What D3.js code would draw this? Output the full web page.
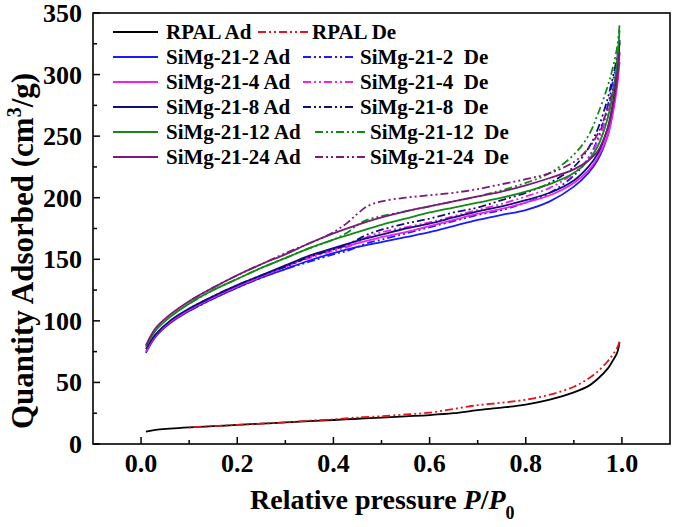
<!DOCTYPE html>
<html><head><meta charset="utf-8">
<script src="https://cdn.jsdelivr.net/npm/d3@7"></script>
<style>
html,body{margin:0;padding:0;background:#fff;}
text{font-family:"Liberation Serif","Times New Roman",serif;font-weight:bold;fill:#000;}
</style></head>
<body><svg id="chart" width="675" height="527"></svg>
<script>
// ---------- data ----------
const pAd = [0.01,0.03,0.06,0.1,0.15,0.2,0.25,0.3,0.35,0.4,0.45,0.5,0.55,0.6,0.65,0.7,0.75,0.8,0.85,0.9,0.93,0.95,0.97,0.98,0.99,0.995];
const pDe = [0.995,0.99,0.98,0.97,0.95,0.93,0.9,0.85,0.8,0.75,0.7,0.65,0.6,0.55,0.5,0.47,0.45,0.43,0.4,0.35,0.3,0.25,0.2,0.15,0.1];

const rpalAd   = [10,11.5,12.5,13.5,14.5,15.5,16.5,17.5,18.5,19.5,20.5,21.5,22.5,23.5,25,27.5,29.5,32,36,42,47,53,61,67,74,83];
const rpalDe   = [83,78,72,67,59,53,46.5,40,36,33.5,31.5,28.5,25.5,24,22.5,22,21.5,21,20,19,17.5,16.5,15.5,14.5,13.5];
const simg2Ad  = [74,87,98,108,118,127,135,142,149,155,160,164,168,172,177,182,186,190,197,209,220,231,250,268,298,328];
const simg2De  = [328,312,292,274,248,232,218,204,196,190,186,181,176,171,166,163,160,157,154,148,142,135,127,118,108];
const simg4Ad  = [75,88,99,109,119,128,136,144,152,158,163,168,172,177,182,187,191,196,202,212,222,233,250,266,290,310];
const simg4De  = [310,300,284,268,246,232,220,208,201,195,190,185,180,176,172,168,164,160,157,151,144,136,128,119,109];
const simg8Ad  = [77,89,100,110,120,129,137,145,153,159,165,170,175,179,184,189,193,198,204,214,225,236,256,274,304,326];
const simg8De  = [326,314,296,280,256,240,225,212,204,198,192,188,183,179,174,170,166,162,158,152,144,137,129,120,110];
const simg12Ad = [79,92,103,114,125,134,143,151,159,166,172,178,183,188,192,196,200,205,211,220,230,242,264,282,310,336];
const simg12De = [340,322,304,290,268,250,235,220,212,206,201,197,193,189,185,182,178,172,166,159,151,143,134,125,114];
const simg24Ad = [80,94,105,116,127,137,146,154,163,171,178,184,189,193,197,201,205,210,216,223,230,238,256,272,296,318];
const simg24De = [318,302,286,272,252,240,229,220,215,211,207,204,202,200,197,193,187,180,172,163,155,146,137,127,116];

const seriesNames = ["RPAL Ad","RPAL De","SiMg-21-2 Ad","SiMg-21-2  De","SiMg-21-4 Ad","SiMg-21-4  De","SiMg-21-8 Ad","SiMg-21-8  De","SiMg-21-12 Ad","SiMg-21-12  De","SiMg-21-24 Ad","SiMg-21-24  De"];
const seriesValues = [rpalAd,rpalDe,simg2Ad,simg2De,simg4Ad,simg4De,simg8Ad,simg8De,simg12Ad,simg12De,simg24Ad,simg24De];
const seriesColors = ["#000000","#e8141c","#1a1aff","#1a1aff","#f01ef0","#f01ef0","#10107a","#10107a","#138a13","#138a13","#7a1a7a","#7a1a7a"];

const xTicks = [0.0,0.2,0.4,0.6,0.8,1.0];
const xTickLabels = ["0.0","0.2","0.4","0.6","0.8","1.0"];
const yTicks = [0,50,100,150,200,250,300,350];
const yTickLabels = ["0","50","100","150","200","250","300","350"];

// ---------- layout ----------
const svg = d3.select("#chart");
const L = 93, R = 670, T = 13, B = 444;
const x = d3.scaleLinear().domain([-0.1,1.1]).range([L,R]);
const y = d3.scaleLinear().domain([0,350]).range([B,T]);
const deDash = "8,3,2,3,2,3";

// frame
svg.append("rect").attr("x",L).attr("y",T).attr("width",R-L).attr("height",B-T)
  .attr("fill","none").attr("stroke","#000").attr("stroke-width",1.6);

// bottom axis ticks (inward)
const gx = svg.append("g");
const xMinor = [0.1,0.3,0.5,0.7,0.9];
gx.selectAll("line.maj").data(xTicks).join("line")
  .attr("x1",d=>x(d)).attr("x2",d=>x(d)).attr("y1",B).attr("y2",B-7)
  .attr("stroke","#000").attr("stroke-width",1.5);
gx.selectAll("line.min").data(xMinor).join("line").attr("class","min")
  .attr("x1",d=>x(d)).attr("x2",d=>x(d)).attr("y1",B).attr("y2",B-4)
  .attr("stroke","#000").attr("stroke-width",1.5);
gx.selectAll("text").data(xTicks).join("text")
  .attr("x",d=>x(d)).attr("y",472).attr("text-anchor","middle")
  .style("font-size","26px").text((d,i)=>xTickLabels[i]);

// left axis ticks (inward)
const gy = svg.append("g");
const yMinor = [25,75,125,175,225,275,325];
gy.selectAll("line.maj").data(yTicks).join("line")
  .attr("x1",L).attr("x2",L+7).attr("y1",d=>y(d)).attr("y2",d=>y(d))
  .attr("stroke","#000").attr("stroke-width",1.5);
gy.selectAll("line.min").data(yMinor).join("line").attr("class","min")
  .attr("x1",L).attr("x2",L+4).attr("y1",d=>y(d)).attr("y2",d=>y(d))
  .attr("stroke","#000").attr("stroke-width",1.5);
gy.selectAll("text").data(yTicks).join("text")
  .attr("x",82).attr("y",d=>y(d)+9).attr("text-anchor","end")
  .style("font-size","26px").text((d,i)=>yTickLabels[i]);

// axis titles
const xt = svg.append("text").attr("x",250).attr("y",509).style("font-size","28px");
xt.append("tspan").text("Relative pressure ");
xt.append("tspan").style("font-style","italic").text("P");
xt.append("tspan").text("/");
xt.append("tspan").style("font-style","italic").text("P");
xt.append("tspan").attr("dy",10).style("font-size","18px").text("0");

const yt = svg.append("text").attr("transform","translate(33,251) rotate(-90)")
  .attr("text-anchor","middle").style("font-size","31px");
yt.append("tspan").text("Quantity Adsorbed (cm");
yt.append("tspan").attr("dy",-12).style("font-size","20px").text("3");
yt.append("tspan").attr("dy",12).text("/g)");

// curves
const line = d3.line().x(d=>x(d[0])).y(d=>y(d[1])).curve(d3.curveCatmullRom.alpha(0.5));
const plot = svg.append("g");
seriesValues.forEach((vals,i)=>{
  const isDe = i%2===1;
  const ps = isDe ? pDe : pAd;
  plot.append("path").datum(ps.map((p,k)=>[p,vals[k]]))
    .attr("d",line).attr("fill","none").attr("stroke",seriesColors[i])
    .attr("stroke-width",1.8).attr("stroke-dasharray",isDe?deDash:null);
});

// legend
const legRowY = [32,57,82,107,132,157];
const leg2 = [[258,308,312],[303,355,360],[303,355,360],[303,355,360],[315,366,370],[315,366,370]];
const lg = svg.append("g");
legRowY.forEach((ry,r)=>{
  const ia = r*2, id = r*2+1;
  lg.append("line").attr("x1",113).attr("x2",158).attr("y1",ry).attr("y2",ry)
    .attr("stroke",seriesColors[ia]).attr("stroke-width",1.8);
  lg.append("text").attr("x",166).attr("y",ry+7).style("font-size","21px")
    .attr("xml:space","preserve").style("white-space","pre").text(seriesNames[ia]);
  lg.append("line").attr("x1",leg2[r][0]).attr("x2",leg2[r][1]).attr("y1",ry).attr("y2",ry)
    .attr("stroke",seriesColors[id]).attr("stroke-width",1.8).attr("stroke-dasharray",deDash);
  lg.append("text").attr("x",leg2[r][2]).attr("y",ry+7).style("font-size","21px")
    .attr("xml:space","preserve").style("white-space","pre").text(seriesNames[id]);
});
</script></body></html>
